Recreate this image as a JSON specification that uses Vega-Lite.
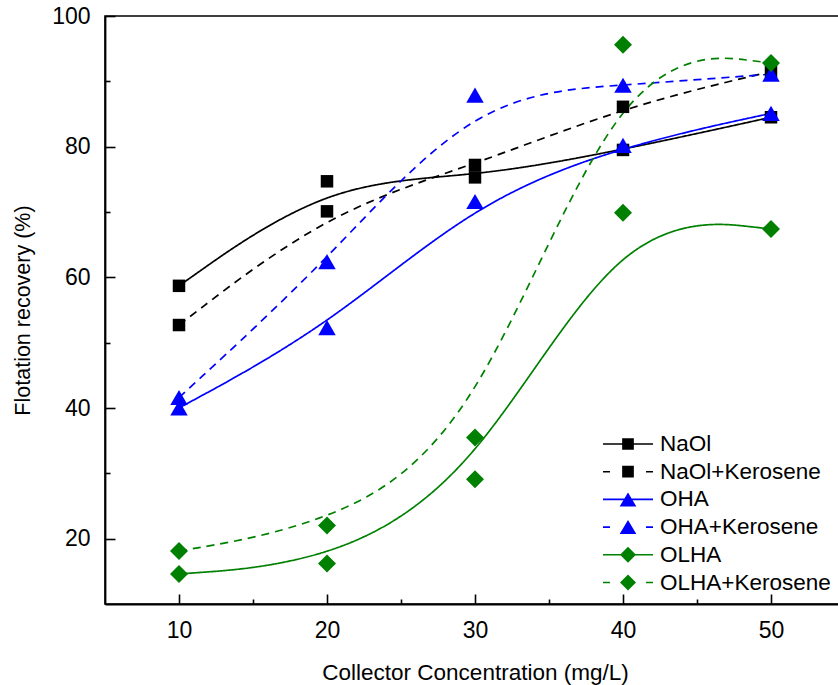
{
  "$schema": "https://vega.github.io/schema/vega-lite/v6.json",
  "width": 740,
  "height": 588,
  "autosize": {"type": "none"},
  "padding": {"left": 105, "top": 16, "right": 0, "bottom": 81},
  "background": "white",
  "config": {
    "font": "Liberation Sans",
    "view": {"stroke": "black", "strokeWidth": 1.6}
  },
  "data": {
    "values": [
      {"conc": 10, "recovery": 58.7, "series": "NaOl"},
      {"conc": 20, "recovery": 74.7, "series": "NaOl"},
      {"conc": 30, "recovery": 75.3, "series": "NaOl"},
      {"conc": 40, "recovery": 79.5, "series": "NaOl"},
      {"conc": 50, "recovery": 84.5, "series": "NaOl"},
      {"conc": 10, "recovery": 52.7, "series": "NaOl+Kerosene"},
      {"conc": 20, "recovery": 70.1, "series": "NaOl+Kerosene"},
      {"conc": 30, "recovery": 77.2, "series": "NaOl+Kerosene"},
      {"conc": 40, "recovery": 86.1, "series": "NaOl+Kerosene"},
      {"conc": 50, "recovery": 91.5, "series": "NaOl+Kerosene"},
      {"conc": 10, "recovery": 40.0, "series": "OHA"},
      {"conc": 20, "recovery": 52.3, "series": "OHA"},
      {"conc": 30, "recovery": 71.6, "series": "OHA"},
      {"conc": 40, "recovery": 80.2, "series": "OHA"},
      {"conc": 50, "recovery": 85.1, "series": "OHA"},
      {"conc": 10, "recovery": 41.6, "series": "OHA+Kerosene"},
      {"conc": 20, "recovery": 62.4, "series": "OHA+Kerosene"},
      {"conc": 30, "recovery": 87.9, "series": "OHA+Kerosene"},
      {"conc": 40, "recovery": 89.4, "series": "OHA+Kerosene"},
      {"conc": 50, "recovery": 91.1, "series": "OHA+Kerosene"},
      {"conc": 10, "recovery": 14.6, "series": "OLHA"},
      {"conc": 20, "recovery": 16.2, "series": "OLHA"},
      {"conc": 30, "recovery": 29.1, "series": "OLHA"},
      {"conc": 40, "recovery": 69.9, "series": "OLHA"},
      {"conc": 50, "recovery": 67.4, "series": "OLHA"},
      {"conc": 10, "recovery": 18.1, "series": "OLHA+Kerosene"},
      {"conc": 20, "recovery": 22.0, "series": "OLHA+Kerosene"},
      {"conc": 30, "recovery": 35.5, "series": "OLHA+Kerosene"},
      {"conc": 40, "recovery": 95.6, "series": "OLHA+Kerosene"},
      {"conc": 50, "recovery": 92.8, "series": "OLHA+Kerosene"}
    ]
  },
  "encoding": {
    "x": {
      "field": "conc",
      "type": "quantitative",
      "scale": {"domain": [5, 55], "nice": false, "zero": false},
      "axis": {
        "orient": "bottom",
        "values": [10, 15, 20, 25, 30, 35, 40, 45, 50],
        "labelExpr": "datum.value % 10 === 0 ? datum.label : ''",
        "tickSize": {"condition": {"test": "datum.value % 10 === 0", "value": -10}, "value": -5},
        "tickWidth": 1.6,
        "tickColor": "black",
        "domainColor": "black",
        "domainWidth": 1.8,
        "grid": false,
        "labelFont": "Liberation Sans",
        "labelFontSize": 23,
        "labelColor": "black",
        "labelPadding": 25,
        "labelFlush": false,
        "title": "Collector Concentration (mg/L)",
        "titleFont": "Liberation Sans",
        "titleFontSize": 22.5,
        "titleFontWeight": "normal",
        "titleColor": "black",
        "titlePadding": 19
      }
    },
    "y": {
      "field": "recovery",
      "type": "quantitative",
      "scale": {"domain": [10, 100], "nice": false, "zero": false},
      "axis": {
        "orient": "left",
        "values": [20, 30, 40, 50, 60, 70, 80, 90, 100],
        "labelExpr": "datum.value % 20 === 0 ? datum.label : ''",
        "tickSize": {"condition": {"test": "datum.value % 20 === 0", "value": -10}, "value": -5},
        "tickWidth": 1.6,
        "tickColor": "black",
        "domainColor": "black",
        "domainWidth": 1.8,
        "grid": false,
        "labelFont": "Liberation Sans",
        "labelFontSize": 23,
        "labelColor": "black",
        "labelPadding": 25,
        "labelFlush": false,
        "title": "Flotation recovery (%)",
        "titleFont": "Liberation Sans",
        "titleFontSize": 21.5,
        "titleFontWeight": "normal",
        "titleColor": "black",
        "titlePadding": 17
      }
    },
    "color": {
      "field": "series", "type": "nominal",
      "scale": {
        "domain": ["NaOl", "NaOl+Kerosene", "OHA", "OHA+Kerosene", "OLHA", "OLHA+Kerosene"],
        "range": ["#000000", "#000000", "#0000ff", "#0000ff", "#008000", "#008000"]
      },
      "legend": {
        "title": null, "orient": "none", "legendX": 498, "legendY": 415,
        "padding": 0, "symbolSize": 2500, "symbolStrokeWidth": 0, "symbolOpacity": 1,
        "labelFont": "Liberation Sans", "labelFontSize": 22.5, "labelColor": "black",
        "labelOffset": 7, "rowPadding": 1.7, "clipHeight": 26, "labelLimit": 400,
        "encode": {
          "symbols": {
            "update": {
              "fill": {"scale": "color", "field": "value"},
              "stroke": {"value": "transparent"},
              "strokeWidth": {"value": 0},
              "strokeDash": {"value": []},
              "opacity": {"value": 1},
              "shape": {"scale": "shape", "field": "value"}
            }
          }
        }
      }
    }
  },
  "layer": [
    {
      "mark": {"type": "line", "interpolate": "basis", "strokeWidth": 1.7},
      "encoding": {
        "strokeDash": {
          "field": "series", "type": "nominal",
          "scale": {
            "domain": ["NaOl", "NaOl+Kerosene", "OHA", "OHA+Kerosene", "OLHA", "OLHA+Kerosene"],
            "range": [[1, 0], [8, 6], [1, 0], [8, 6], [1, 0], [8, 6]]
          },
          "legend": null
        }
      }
    },
    {
      "transform": [{"filter": {"field": "series", "oneOf": ["NaOl", "NaOl+Kerosene"]}}],
      "mark": {"type": "point", "filled": true, "shape": "square", "size": 156, "opacity": 1}
    },
    {
      "transform": [{"filter": {"field": "series", "oneOf": ["OHA", "OHA+Kerosene"]}}],
      "mark": {"type": "point", "filled": true, "shape": "triangle-up", "size": 306, "opacity": 1}
    },
    {
      "transform": [{"filter": {"field": "series", "oneOf": ["OLHA", "OLHA+Kerosene"]}}],
      "mark": {"type": "point", "filled": true, "shape": "diamond", "size": 324, "opacity": 1}
    },
    {
      "transform": [{"filter": "false"}],
      "mark": {"type": "point", "filled": true, "opacity": 1},
      "encoding": {
        "shape": {
          "field": "series", "type": "nominal",
          "scale": {
            "domain": ["NaOl", "NaOl+Kerosene", "OHA", "OHA+Kerosene", "OLHA", "OLHA+Kerosene"],
            "range": [
              "M-1,-0.032H1V0.032H-1Z M-0.234,-0.234H0.234V0.234H-0.234Z",
              "M-1,-0.032H-0.72V0.032H-1Z M0.72,-0.032H1V0.032H0.72Z M-0.234,-0.234H0.234V0.234H-0.234Z",
              "M-1,-0.032H1V0.032H-1Z M0,-0.28L0.334,0.28L-0.334,0.28Z",
              "M-1,-0.032H-0.72V0.032H-1Z M0.72,-0.032H1V0.032H0.72Z M0,-0.28L0.334,0.28L-0.334,0.28Z",
              "M-1,-0.032H1V0.032H-1Z M0,-0.32L0.32,0L0,0.32L-0.32,0Z",
              "M-1,-0.032H-0.72V0.032H-1Z M0.72,-0.032H1V0.032H0.72Z M0,-0.32L0.32,0L0,0.32L-0.32,0Z"
            ]
          },
          "legend": {
            "title": null, "orient": "none", "legendX": 498, "legendY": 415,
            "padding": 0, "symbolSize": 2500, "symbolStrokeWidth": 0, "symbolOpacity": 1,
            "labelFont": "Liberation Sans", "labelFontSize": 22.5, "labelColor": "black",
            "labelOffset": 7, "rowPadding": 1.7, "clipHeight": 26, "labelLimit": 400
          }
        }
      }
    }
  ]
}
